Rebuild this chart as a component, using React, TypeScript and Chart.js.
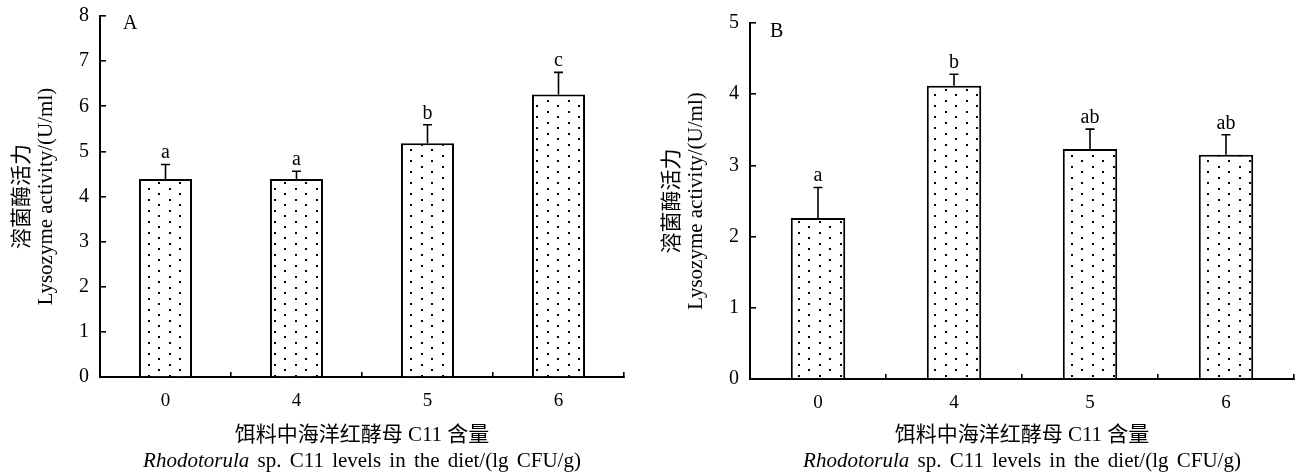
import React, { useEffect, useRef } from 'react';
import { Chart, registerables } from 'chart.js';

Chart.register(...registerables);

// ---------- data ----------
const categories = ['0', '4', '5', '6'];

const meanA = [4.39, 4.39, 5.18, 6.26];
const sdA = [0.32, 0.17, 0.41, 0.49];
const lettersA = ['a', 'a', 'b', 'c'];
const yMaxA = 8;

const meanB = [2.26, 4.12, 3.23, 3.15];
const sdB = [0.43, 0.16, 0.28, 0.28];
const lettersB = ['a', 'b', 'ab', 'ab'];
const yMaxB = 5;

const yTitle = ['溶菌酶活力', 'Lysozyme activity/(U/ml)'];
const xTitleCn = '饵料中海洋红酵母 C11 含量';
const xTitleItalic = 'Rhodotorula';
const xTitleRest = 'sp. C11 levels in the diet/(lg CFU/g)';

const SERIF = '"Liberation Serif", "Noto Sans CJK SC", serif';

function makePattern(): CanvasPattern | string {
  const tile = document.createElement('canvas');
  tile.width = 21;
  tile.height = 11;
  const c = tile.getContext('2d');
  if (!c) return '#fff';
  c.fillStyle = '#fff';
  c.fillRect(0, 0, 21, 11);
  c.fillStyle = '#000';
  c.fillRect(1, 1, 2, 2);
  c.fillRect(11, 6, 2, 2);
  const p = c.createPattern(tile, 'repeat');
  return p || '#fff';
}

const annotPlugin = {
  id: 'annot',
  afterDatasetsDraw(chart: any, _args: any, opts: any) {
    const { ctx, chartArea } = chart;
    const meta = chart.getDatasetMeta(0);
    const y = chart.scales.y;
    ctx.save();
    ctx.strokeStyle = '#000';
    ctx.fillStyle = '#000';
    ctx.lineWidth = 1.6;
    meta.data.forEach((bar: any, i: number) => {
      const m = opts.means[i];
      const s = opts.sds[i];
      const yTop = y.getPixelForValue(m + s);
      const yBar = y.getPixelForValue(m);
      ctx.beginPath();
      ctx.moveTo(bar.x, yBar);
      ctx.lineTo(bar.x, yTop);
      ctx.moveTo(bar.x - 4.5, yTop);
      ctx.lineTo(bar.x + 4.5, yTop);
      ctx.stroke();
      ctx.font = '20px ' + SERIF;
      ctx.textAlign = 'center';
      ctx.textBaseline = 'alphabetic';
      ctx.fillText(opts.letters[i], bar.x, yTop - 6);
    });
    // panel label
    ctx.font = '20px ' + SERIF;
    ctx.textAlign = 'left';
    ctx.textBaseline = 'alphabetic';
    ctx.fillText(opts.label, chartArea.left + opts.labelDx, chartArea.top + opts.labelDy);
    // x-axis titles
    const cx = (chartArea.left + chartArea.right) / 2;
    ctx.textBaseline = 'middle';
    ctx.textAlign = 'center';
    ctx.font = '21px ' + SERIF;
    ctx.fillText(xTitleCn, cx, chart.height - 40);
    // English line: italic genus name + upright rest, with slightly wide word gaps
    const fItalic = 'italic 21px ' + SERIF;
    const fNormal = '21px ' + SERIF;
    const extraGap = 3;
    ctx.font = fItalic;
    const wItalic = ctx.measureText(xTitleItalic).width;
    ctx.font = fNormal;
    const spaceW = ctx.measureText(' ').width + extraGap;
    const words = xTitleRest.split(' ');
    const widths = words.map((w) => ctx.measureText(w).width);
    const total = wItalic + widths.reduce((a, b) => a + b + spaceW, 0);
    let x = cx - total / 2;
    const ty = chart.height - 14;
    ctx.textAlign = 'left';
    ctx.font = fItalic;
    ctx.fillText(xTitleItalic, x, ty);
    x += wItalic;
    ctx.font = fNormal;
    words.forEach((w, i) => {
      x += spaceW;
      ctx.fillText(w, x, ty);
      x += widths[i];
    });
    ctx.restore();
  },
};

type PanelProps = {
  means: number[];
  sds: number[];
  letters: string[];
  yMax: number;
  label: string;
  width: number;
  left: number;
  padTop: number;
  padRight: number;
  xHeight: number;
  labelDx: number;
  labelDy: number;
  barPct: number;
};

function Panel(p: PanelProps) {
  const ref = useRef<HTMLCanvasElement | null>(null);
  useEffect(() => {
    if (!ref.current) return;
    const pattern = makePattern();
    const chart = new Chart(ref.current, {
      type: 'bar',
      data: {
        labels: categories,
        datasets: [
          {
            data: p.means,
            backgroundColor: pattern as any,
            borderColor: '#000',
            borderWidth: 2,
            borderSkipped: 'bottom',
            barPercentage: p.barPct,
            categoryPercentage: 1,
          },
        ],
      },
      options: {
        responsive: false,
        animation: false,
        devicePixelRatio: 1,
        layout: { padding: { left: 0, top: p.padTop, right: p.padRight, bottom: 0 } },
        plugins: {
          legend: { display: false },
          tooltip: { enabled: false },
          annot: {
            means: p.means,
            sds: p.sds,
            letters: p.letters,
            label: p.label,
            labelDx: p.labelDx,
            labelDy: p.labelDy,
          },
        } as any,
        scales: {
          x: {
            offset: true,
            grid: {
              offset: true,
              drawOnChartArea: false,
              drawTicks: true,
              tickLength: -5,
              color: '#000',
              lineWidth: 1.6,
            },
            border: { display: true, color: '#000', width: 2 },
            ticks: {
              color: '#000',
              font: { family: SERIF, size: 19 },
              padding: 18,
              maxRotation: 0,
            },
            afterFit: (scale: any) => {
              scale.height = p.xHeight;
              scale.paddingLeft = 0;
              scale.paddingRight = 0;
            },
          },
          y: {
            min: 0,
            max: p.yMax,
            grid: {
              drawOnChartArea: false,
              drawTicks: true,
              tickLength: -6,
              color: '#000',
              lineWidth: 1.6,
            },
            border: { display: true, color: '#000', width: 2 },
            ticks: {
              stepSize: 1,
              color: '#000',
              font: { family: SERIF, size: 20 },
              padding: 17,
            },
            title: {
              display: true,
              text: yTitle,
              color: '#000',
              font: { family: SERIF, size: 21, lineHeight: 1.15 },
              padding: { top: 10, bottom: 0 },
            },
            afterFit: (scale: any) => {
              scale.width = 100;
              scale.paddingTop = 8;
              scale.paddingBottom = 8;
            },
          },
        },
      },
      plugins: [annotPlugin as any],
    });
    return () => chart.destroy();
  }, []);
  return (
    <canvas
      ref={ref}
      width={p.width}
      height={475}
      style={{ position: 'absolute', left: p.left, top: 0, width: p.width, height: 475 }}
    />
  );
}

export default function App() {
  return (
    <div
      style={{
        position: 'absolute',
        left: 0,
        top: 0,
        width: 1301,
        height: 475,
        background: '#fff',
        overflow: 'hidden',
      }}
    >
      <Panel
        means={meanA}
        sds={sdA}
        letters={lettersA}
        yMax={yMaxA}
        label="A"
        width={650}
        left={0}
        padTop={16}
        padRight={26}
        xHeight={98}
        labelDx={23}
        labelDy={13}
        barPct={0.405}
      />
      <Panel
        means={meanB}
        sds={sdB}
        letters={lettersB}
        yMax={yMaxB}
        label="B"
        width={651}
        left={650}
        padTop={23}
        padRight={7}
        xHeight={96}
        labelDx={20}
        labelDy={14}
        barPct={0.4}
      />
    </div>
  );
}
